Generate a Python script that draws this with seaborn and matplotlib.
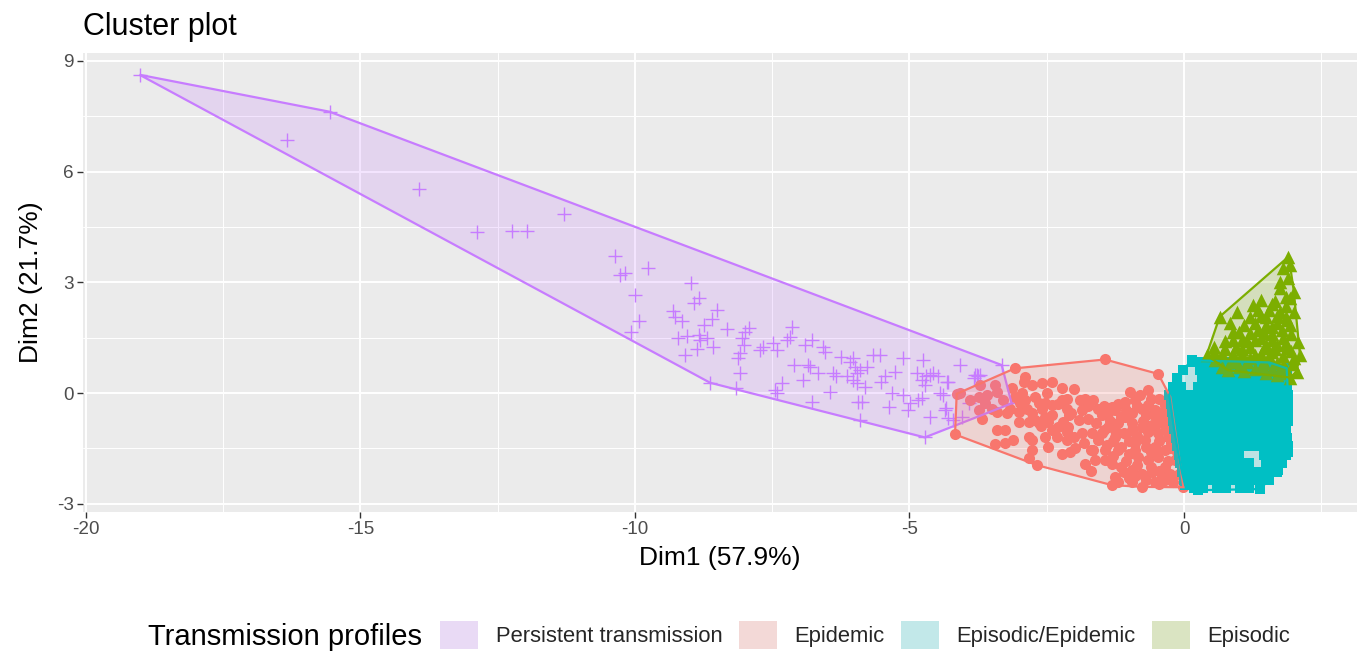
import numpy as np
import pandas as pd
import matplotlib
matplotlib.use("Agg")
import matplotlib.pyplot as plt
import seaborn as sns
from matplotlib.patches import Polygon, Patch

# ---------------- data ----------------
labels = ["Persistent transmission", "Epidemic", "Episodic/Epidemic", "Episodic"]
colors = ["#C77CFF", "#F8766D", "#00BFC4", "#7CAE00"]

purple_x = [-19.02, -15.56, -16.34, -13.93, -12.88, -12.24, -11.97, -11.29, -10.37, -10.27,
            -10.18, -9.77, -9.99, -9.92, -10.07, -8.98, -8.84, -8.93, -8.51, -9.30,
            -9.27, -9.15, -8.75, -8.60, -8.33, -9.21, -9.06, -8.84, -8.81, -8.69,
            -8.57, -8.86, -9.09, -7.93, -7.99, -8.05, -8.02, -8.08, -8.12, -8.08,
            -8.15, -8.63, -7.72, -7.66, -7.48, -7.42, -7.23, -7.17, -7.13, -7.11,
            -6.90, -6.78, -6.57, -6.54, -6.84, -6.81, -6.66, -6.93, -6.45, -6.78,
            -7.33, -7.42, -7.45, -6.39, -6.33, -6.24, -6.14, -6.08, -6.02, -5.99,
            -5.96, -5.90, -6.02, -5.96, -5.78, -5.81, -5.87, -5.93, -5.90, -5.66,
            -5.53, -5.44, -5.51, -5.26, -5.11, -5.32, -5.38, -5.11, -4.99, -5.02,
            -4.87, -4.75, -4.78, -4.72, -4.69, -4.63, -4.57, -4.48, -4.32, -4.45,
            -4.84, -4.78, -4.63, -4.35, -4.29, -4.08, -3.81, -3.75, -3.32, -3.14,
            -4.72, -3.83, -3.77, -3.71, -4.29, -4.38, -4.33, -4.20, -4.05, -3.92]
purple_y = [8.62, 7.62, 6.86, 5.52, 4.37, 4.40, 4.40, 4.85, 3.70, 3.20,
            3.26, 3.38, 2.66, 1.96, 1.66, 2.97, 2.57, 2.43, 2.25, 2.21,
            2.05, 1.96, 1.85, 2.00, 1.73, 1.48, 1.55, 1.57, 1.44, 1.48,
            1.26, 1.19, 1.03, 1.75, 1.66, 1.48, 1.30, 1.08, 0.94, 0.54,
            0.13, 0.28, 1.17, 1.26, 1.35, 1.17, 1.44, 1.53, 1.80, 0.76,
            1.30, 1.44, 1.24, 1.12, 0.76, 0.72, 0.54, 0.35, 0.04, -0.23,
            0.26, -0.01, 0.08, 0.54, 0.45, 0.99, 0.45, 0.85, 0.94, 0.72,
            0.54, 0.63, 0.35, 0.26, 0.72, 0.17, -0.23, -0.23, -0.73, 1.03,
            1.03, 0.45, 0.31, 0.58, 0.94, -0.01, -0.37, -0.05, -0.28, -0.46,
            0.54, 0.90, 0.35, 0.22, 0.45, 0.49, 0.54, 0.45, 0.31, -0.01,
            -0.19, -0.14, -0.64, -0.46, -0.68, 0.76, 0.49, 0.45, 0.76, -0.28,
            -1.20, 0.40, 0.49, 0.49, 0.31, -0.05, -0.40, -0.73, -0.64, -0.28]

red_x = [-4.17, -4.14, -3.08, -1.44, -0.47, -0.25, -0.01, -1.32, -2.68, -3.44,
         -2.89, -2.92, -2.77, -2.59, -2.41, -2.23, -3.71, -3.44, -3.41, -3.59,
         -4.08, -3.89, -3.74, -3.62, -3.50, -3.41, -3.74, -3.68, -3.14, -3.08,
         -2.95, -2.98, -2.89, -2.71, -2.65, -2.53, -2.41, -2.23, -2.14, -2.86,
         -2.77, -2.59, -2.53, -2.71, -3.01, -2.83, -2.65, -2.47, -2.41, -2.29,
         -2.20, -2.14, -2.32, -2.53, -2.83, -2.77, -3.11, -3.26, -3.41, -3.26,
         -2.77, -2.83, -2.47, -2.23, -2.10, -3.23, -3.17,
         -2.14, -1.80, -1.65, -0.98, -0.65, -1.07, -1.32, -1.56, -1.86, -2.05,
         -1.92, -1.74, -2.11, -2.14, -1.98, -1.83, -1.80, -2.07, -1.65, -1.44,
         -1.50, -1.38, -1.20, -1.07, -0.95, -0.77, -0.65, -0.53, -0.41, -0.35,
         -1.38, -1.26, -1.10, -0.95, -0.77, -0.59, -0.47, -0.35, -0.89, -0.71,
         -0.53, -0.35, -1.20, -1.01, -0.83, -0.65, -0.47, -0.35, -1.32, -1.14,
         -0.95, -0.77, -0.59, -0.41, -1.26, -1.20, -0.95, -0.77, -0.53, -0.35,
         -0.17, -0.23, -1.56, -1.68, -1.62, -1.44, -1.86,
         -1.20, -0.90, -0.70, -0.50, -1.00, -0.60, -0.30, -0.20, -0.12, -0.10,
         -1.30, -0.45, -0.80, -1.50, -1.90, -2.40, -1.70, -1.00,
         -1.45, -1.25, -1.05, -0.85, -0.60, -0.40, -1.35, -1.15, -0.95, -0.75,
         -0.55, -0.35, -1.45, -1.25, -1.05, -0.85, -0.65, -0.45, -0.25, -1.40,
         -1.15, -0.90, -0.70, -0.50, -0.30, -1.30, -1.05, -0.85, -0.60, -0.45,
         -0.25, -1.10, -0.90, -0.70, -0.45, -0.20, -1.75, -1.60, -1.70, -2.00,
         -2.30, -2.60, -3.00, -3.30, -2.50, -2.00]
red_y = [-1.12, -0.02, 0.67, 0.91, 0.52, -0.10, -2.55, -2.49, -1.95, -1.38,
         0.44, 0.31, 0.22, 0.26, 0.31, 0.13, 0.22, 0.22, 0.04, -0.05,
         -0.01, -0.19, -0.10, -0.28, -0.42, -0.51, -0.46, -0.69, 0.13, -0.10,
         -0.01, -0.28, -0.19, -0.10, -0.28, -0.28, -0.33, -0.19, -0.42, -0.42,
         -0.55, -0.42, -0.64, -0.73, -0.78, -0.78, -0.82, -0.78, -1.00, -0.91,
         -0.78, -1.05, -1.18, -1.18, -1.18, -1.27, -1.27, -1.36, -1.00, -1.00,
         -1.55, -1.77, -1.45, -1.64, -0.60, -0.55, -0.42,
         -0.15, -0.15, -0.19, 0.04, 0.08, -0.24, -0.37, -0.42, -0.46, -0.55,
         -0.73, -0.69, -0.91, -1.27, -1.50, -1.36, -1.91, -1.59, -1.55, -1.55,
         -1.09, -0.91, -0.82, -0.64, -0.55, -0.42, -0.33, -0.46, -0.64, -0.33,
         -0.55, -1.18, -1.09, -1.00, -0.91, -0.87, -1.09, -1.00, -1.36, -1.27,
         -1.45, -1.55, -1.55, -1.64, -1.73, -1.82, -1.73, -2.00, -1.91, -2.00,
         -2.09, -2.18, -2.13, -2.27, -2.27, -2.40, -2.40, -2.54, -2.40, -2.36,
         -1.82, -1.36, -1.27, -1.09, -1.82, -1.82, -1.09,
         -0.30, -0.20, -0.60, -0.80, -1.30, -1.60, -1.20, -0.90, -1.60, -2.20,
         -1.30, -0.15, -0.05, -0.60, -0.20, -0.60, -2.10, -2.30,
         -0.35, -0.45, -0.45, -0.35, -0.15, -0.50, -0.75, -0.65, -0.80, -0.75,
         -0.60, -0.80, -1.00, -1.00, -1.10, -1.15, -1.05, -1.30, -1.50, -1.40,
         -1.45, -1.55, -1.45, -1.60, -1.85, -1.70, -1.85, -1.95, -2.00, -2.10,
         -2.20, -2.15, -2.25, -2.35, -2.45, -2.40, -0.35, -0.80, -1.55, -1.20,
         -0.30, -0.90, -0.50, -0.20, 0.00, 0.10]

cyan_row_y = [0.83, 0.62, 0.40, 0.17, -0.06, -0.29, -0.52, -0.75,
              -0.98, -1.21, -1.44, -1.67, -1.90, -2.13, -2.36, -2.58]
cyan_row_x = [
    [0.14, 0.30, 0.46, 0.62, 0.77, 0.93, 1.08, 1.24, 1.40, 1.55],
    [-0.02, 0.29, 0.45, 0.60, 0.76, 0.92, 1.07, 1.23, 1.39, 1.54, 1.70, 1.84],
    [-0.13, 0.33, 0.48, 0.64, 0.80, 0.95, 1.11, 1.27, 1.42, 1.58, 1.73, 1.87],
    [-0.20, -0.05, 0.25, 0.41, 0.57, 0.72, 0.88, 1.03, 1.19, 1.35, 1.50, 1.66, 1.81, 1.88],
    [-0.26, -0.11, 0.05, 0.20, 0.36, 0.52, 0.67, 0.83, 0.99, 1.14, 1.30, 1.45, 1.61, 1.77, 1.89],
    [-0.24, -0.09, 0.07, 0.23, 0.38, 0.54, 0.69, 0.85, 1.01, 1.16, 1.32, 1.48, 1.63, 1.79, 1.90],
    [-0.22, -0.06, 0.09, 0.25, 0.41, 0.56, 0.72, 0.87, 1.03, 1.19, 1.34, 1.50, 1.66, 1.81, 1.90],
    [-0.20, -0.04, 0.11, 0.27, 0.43, 0.58, 0.74, 0.89, 1.05, 1.21, 1.36, 1.52, 1.68, 1.83, 1.90],
    [-0.18, -0.02, 0.13, 0.29, 0.45, 0.60, 0.76, 0.91, 1.07, 1.23, 1.38, 1.54, 1.70, 1.85],
    [-0.15, 0.00, 0.16, 0.32, 0.47, 0.63, 0.78, 0.94, 1.10, 1.25, 1.41, 1.57, 1.72, 1.88],
    [-0.12, 0.03, 0.19, 0.35, 0.50, 0.66, 0.81, 0.97, 1.13, 1.28, 1.44, 1.60, 1.75, 1.89],
    [-0.10, 0.06, 0.22, 0.37, 0.53, 0.69, 0.84, 1.00, 1.46, 1.62, 1.77, 1.86],
    [-0.07, 0.09, 0.24, 0.40, 0.56, 0.71, 0.87, 1.03, 1.18, 1.50, 1.66, 1.78],
    [-0.04, 0.12, 0.27, 0.43, 0.59, 0.74, 0.90, 1.06, 1.21, 1.37, 1.53, 1.70],
    [0.00, 0.15, 0.31, 0.46, 0.62, 0.78, 0.93, 1.09, 1.25, 1.40, 1.54],
    [0.18, 0.34, 0.60, 0.76, 1.02, 1.18, 1.38],
]
cyan_extra_x = [0.14, 1.87, 1.90, 1.72, 1.38, 0.26, 0.02, -0.27]
cyan_extra_y = [0.89, 0.67, -1.59, -2.09, -2.60, -2.63, -2.49, -0.05]

green_x = [1.90, 1.93, 1.81, 1.90, 1.75, 2.00, 1.93, 1.41, 1.26, 1.35,
           0.96, 2.00, 0.65, 1.60, 1.85, 1.70, 1.50, 1.88, 0.84, 1.93,
           1.10, 1.30, 1.60, 1.78, 0.90, 1.20, 1.45, 1.95, 1.05, 1.30,
           1.60, 0.75, 2.08, 1.85, 0.55, 0.95, 1.20, 1.45, 1.87, 1.65,
           0.41, 0.70, 1.05, 1.30, 2.11, 1.55, 1.80, 0.56, 0.85, 1.15,
           1.45, 1.70, 1.98, 0.70, 1.00, 1.30, 1.60, 1.85, 2.05, 1.93, 1.70,
           1.75, 1.85, 1.65, 1.55, 1.75, 1.40, 1.20, 1.85, 1.70, 1.50,
           1.00, 1.35, 1.60, 1.80, 1.40, 1.15, 0.90, 1.70, 1.50, 1.05,
           0.75, 1.95, 1.60, 1.40, 0.90, 0.55, 2.00, 1.20, 0.95, 1.80,
           1.40, 1.10, 0.80, 1.50, 1.75]
green_y = [3.69, 3.47, 3.38, 3.11, 2.84, 2.75, 2.57, 2.52, 2.38, 2.25,
           2.20, 2.20, 2.07, 2.40, 2.35, 2.10, 2.05, 1.98, 1.89, 1.84,
           1.85, 1.90, 1.80, 1.70, 1.66, 1.62, 1.62, 1.60, 1.45, 1.45,
           1.45, 1.40, 1.39, 1.35, 1.25, 1.25, 1.25, 1.22, 1.21, 1.20,
           1.03, 1.05, 1.05, 1.02, 1.03, 1.00, 1.00, 0.90, 0.88, 0.85,
           0.82, 0.82, 0.80, 0.72, 0.70, 0.66, 0.64, 0.62, 0.58, 0.42, 0.50,
           3.00, 2.60, 2.50, 2.25, 2.20, 2.10, 2.05, 2.05, 1.90, 1.85,
           1.65, 1.70, 1.60, 1.50, 1.50, 1.40, 1.45, 1.30, 1.30, 1.20,
           1.20, 1.15, 1.10, 1.05, 1.05, 1.10, 0.95, 0.95, 0.85, 0.75,
           0.70, 0.60, 0.62, 0.55, 0.55]

x_ticks = [-20, -15, -10, -5, 0]
y_ticks = [-3, 0, 3, 6, 9]

# ---------------- assemble ----------------
cyan_x = [x for row in cyan_row_x for x in row] + cyan_extra_x
cyan_y = [y for y, row in zip(cyan_row_y, cyan_row_x) for _ in row] + cyan_extra_y

clusters = [
    (labels[0], purple_x, purple_y, "+"),
    (labels[1], red_x, red_y, "o"),
    (labels[2], cyan_x, cyan_y, "s"),
    (labels[3], green_x, green_y, "^"),
]
sizes = {"+": 100, "o": 64, "s": 62, "^": 95}


def convex_hull(xs, ys):
    pts = sorted(set(zip(xs, ys)))

    def cross(o, a, b):
        return (a[0] - o[0]) * (b[1] - o[1]) - (a[1] - o[1]) * (b[0] - o[0])

    lower, upper = [], []
    for p in pts:
        while len(lower) >= 2 and cross(lower[-2], lower[-1], p) <= 0:
            lower.pop()
        lower.append(p)
    for p in reversed(pts):
        while len(upper) >= 2 and cross(upper[-2], upper[-1], p) <= 0:
            upper.pop()
        upper.append(p)
    return np.array(lower[:-1] + upper[:-1])


# ---------------- style ----------------
sns.set_theme(style="darkgrid", rc={
    "axes.facecolor": "#EBEBEB",
    "grid.color": "white",
    "axes.edgecolor": "#EBEBEB",
})
plt.rcParams["font.family"] = ["Liberation Sans", "DejaVu Sans"]

W, H = 1359, 651
fig = plt.figure(figsize=(W / 100, H / 100), dpi=100)
fig.patch.set_facecolor("white")
ax = fig.add_axes([83 / W, 1 - 512 / H, (1357 - 83) / W, (512 - 53) / H])

for (name, xs, ys, mk), col in zip(clusters, colors):
    df = pd.DataFrame({"Dim1": xs, "Dim2": ys})
    if mk == "+":
        sns.scatterplot(data=df, x="Dim1", y="Dim2", marker=mk, color=col,
                        s=sizes[mk], linewidth=1.0, ax=ax, zorder=2, legend=False)
    else:
        sns.scatterplot(data=df, x="Dim1", y="Dim2", marker=mk, color=col,
                        s=sizes[mk], linewidth=0, ax=ax, zorder=2, legend=False)

for (name, xs, ys, mk), col in zip(clusters, colors):
    h = convex_hull(xs, ys)
    rgb = matplotlib.colors.to_rgb(col)
    ax.add_patch(Polygon(h, closed=True, facecolor=(*rgb, 0.2), edgecolor=col,
                         linewidth=1.6, zorder=3))

ax.set_xlim(-20.05, 3.15)
ax.set_ylim(-3.22, 9.21)
ax.set_xticks(x_ticks)
ax.set_yticks(y_ticks)
ax.set_xticklabels([str(t) for t in x_ticks])
ax.set_yticklabels([str(t) for t in y_ticks])
ax.set_xticks([-17.5, -12.5, -7.5, -2.5, 2.5], minor=True)
ax.set_yticks([-1.5, 1.5, 4.5, 7.5], minor=True)
ax.grid(which="major", color="white", linewidth=1.4)
ax.grid(which="minor", color="white", linewidth=0.7)
ax.tick_params(which="major", length=4, width=1.0, color="#333333",
               labelcolor="#4D4D4D", labelsize=13.6, pad=2.5,
               bottom=True, left=True)
ax.tick_params(which="minor", length=0)
for sp in ax.spines.values():
    sp.set_visible(False)

ax.set_xlabel("Dim1 (57.9%)", fontsize=19, color="black", labelpad=6)
ax.set_ylabel("Dim2 (21.7%)", fontsize=19, color="black", labelpad=10)

fig.text(83 / W, 1 - 35 / H, "Cluster plot", fontsize=22, ha="left",
         va="baseline", color="black")

# legend
key_bg = np.array([242, 242, 242]) / 255
handles = []
for col in colors:
    rgb = np.array(matplotlib.colors.to_rgb(col))
    handles.append(Patch(facecolor=0.8 * key_bg + 0.2 * rgb, edgecolor="none"))
fs = 15.8
fig.text(148 / W, 1 - 645 / H, "Transmission profiles", fontsize=21,
         ha="left", va="baseline", color="black")
fig.legend(handles, labels, loc="center left",
           bbox_to_anchor=(440 / W, 1 - 635 / H), ncol=4, frameon=False,
           fontsize=fs, handlelength=38 / (fs * 100 / 72),
           handleheight=36 / (fs * 100 / 72), handletextpad=0.8,
           columnspacing=0.75, borderpad=0, borderaxespad=0)

fig.savefig("out.png", dpi=100)
